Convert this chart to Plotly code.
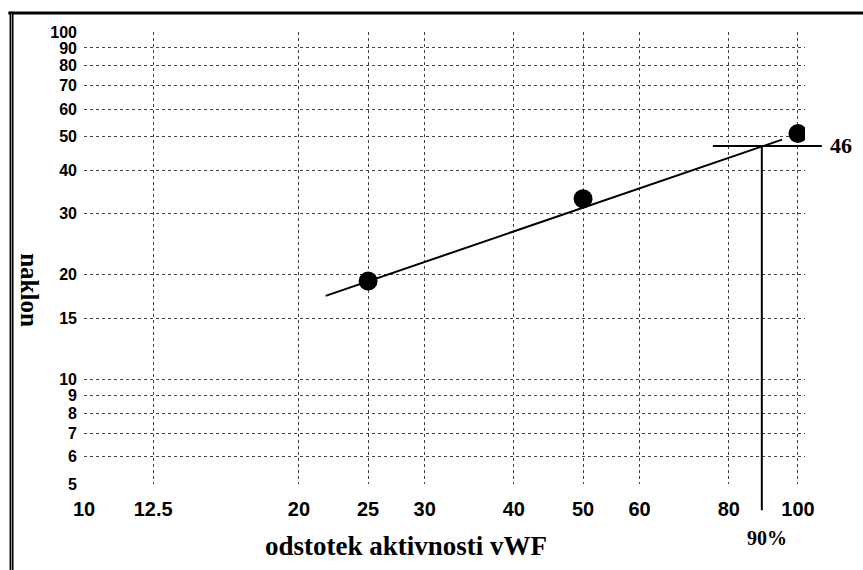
import math
import plotly.graph_objects as go

# ---- data ----
x_points = [25, 50, 100]
y_points = [19.2, 33.1, 51.0]

fit_x = [21.8, 95.0]
fit_y = [17.4, 49.0]

cross_x = 89.0          # read-out concentration (labelled 90%)
cross_y = 47.0          # read-out slope (labelled 46)
cross_h_span = [76.0, 108.0]
cross_v_bottom = 4.2
cross_y_label = "46"
cross_x_label = "90%"

x_ticks = [10, 12.5, 20, 25, 30, 40, 50, 60, 80, 100]
x_ticktext = ["10", "12.5", "20", "25", "30", "40", "50", "60", "80", "100"]
y_ticks = [5, 6, 7, 8, 9, 10, 15, 20, 30, 40, 50, 60, 70, 80, 90, 100]
y_ticktext = [str(v) for v in y_ticks]

x_min, x_max = 10, 102.3
y_min, y_max = 5, 100

x_title = "odstotek aktivnosti vWF"
y_title = "naklon"

xr = [math.log10(x_min), math.log10(x_max)]
yr = [math.log10(y_min), math.log10(y_max)]


def xpaper(v):
    return (math.log10(v) - xr[0]) / (xr[1] - xr[0])


def ypaper(v):
    return (math.log10(v) - yr[0]) / (yr[1] - yr[0])


sans = "Liberation Sans, Arial, sans-serif"
serif = "Liberation Serif, Times New Roman, serif"

fig = go.Figure()
fig.add_trace(go.Scatter(x=fit_x, y=fit_y, mode="lines",
                         line=dict(color="black", width=2), hoverinfo="skip",
                         showlegend=False))
fig.add_trace(go.Scatter(x=x_points, y=y_points, mode="markers",
                         marker=dict(color="black", size=19, line=dict(width=0)),
                         showlegend=False))

# crosshair
fig.add_shape(type="line", xref="paper", yref="y",
              x0=xpaper(cross_h_span[0]), x1=xpaper(cross_h_span[1]),
              y0=cross_y, y1=cross_y, line=dict(color="black", width=2))
fig.add_shape(type="line", xref="x", yref="paper",
              x0=cross_x, x1=cross_x,
              y0=ypaper(cross_y), y1=ypaper(cross_v_bottom),
              line=dict(color="black", width=2))

# frame (top and left heavy border)
fig.add_shape(type="line", xref="paper", yref="paper", x0=-0.105, x1=1.1,
              y0=1.042, y1=1.042, line=dict(color="black", width=3))
fig.add_shape(type="line", xref="paper", yref="paper", x0=-0.1005, x1=-0.1005,
              y0=1.045, y1=-0.2, line=dict(color="black", width=4))
fig.add_shape(type="line", xref="paper", yref="paper", x0=-0.1005, x1=-0.1005,
              y0=1.04, y1=-0.2, line=dict(color="#9a9a9a", width=1))

fig.add_annotation(text=cross_y_label, xref="paper", yref="y",
                   x=xpaper(cross_h_span[1]), y=math.log10(cross_y),
                   xanchor="left", yanchor="middle", xshift=6, showarrow=False,
                   font=dict(family=serif, size=22, color="black", weight="bold"))
fig.add_annotation(text=cross_x_label, xref="x", yref="paper",
                   x=math.log10(cross_x), y=0, xanchor="center", yanchor="middle",
                   yshift=-54, xshift=5, showarrow=False,
                   font=dict(family=serif, size=20, color="black", weight="bold"))
fig.add_annotation(text=x_title, xref="paper", yref="paper", x=0.447, y=0,
                   xanchor="center", yanchor="middle", yshift=-62, showarrow=False,
                   font=dict(family=serif, size=27, color="black", weight="bold"))
fig.add_annotation(text=y_title, xref="paper", yref="paper", x=-0.075, y=0.429,
                   xanchor="center", yanchor="middle", textangle=90, showarrow=False,
                   font=dict(family=serif, size=25, color="black", weight="bold"))

grid = dict(showgrid=True, gridcolor="#444444", gridwidth=1, griddash="dot",
            zeroline=False, showline=False, ticks="", automargin=False)

fig.update_xaxes(type="log", range=xr, tickvals=x_ticks, ticktext=x_ticktext,
                 tickfont=dict(family=sans, size=20, color="black", weight="bold"),
                 ticklabelstandoff=11, **grid)
fig.update_yaxes(type="log", range=yr, tickvals=y_ticks, ticktext=y_ticktext,
                 tickfont=dict(family=sans, size=16, color="black", weight="bold"),
                 ticklabelstandoff=6, **grid)

fig.update_layout(width=863, height=570, margin=dict(l=84, r=58, t=32, b=86),
                  paper_bgcolor="white", plot_bgcolor="white", showlegend=False)

fig.write_html("out.html")
